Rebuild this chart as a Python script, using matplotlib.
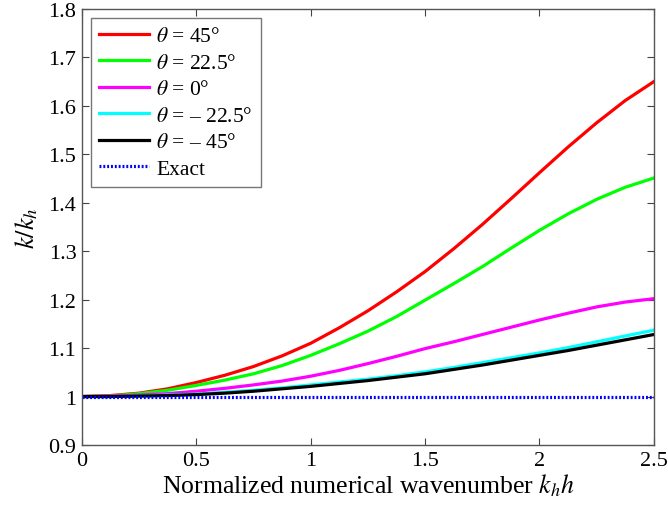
import matplotlib
matplotlib.use("Agg")
import matplotlib.pyplot as plt

plt.rcParams['font.family'] = ['Liberation Serif', 'DejaVu Serif']
plt.rcParams['mathtext.fontset'] = 'stix'

kh = [0.0, 0.125, 0.25, 0.375, 0.5, 0.625, 0.75, 0.875, 1.0, 1.125, 1.25,
      1.375, 1.5, 1.625, 1.75, 1.875, 2.0, 2.125, 2.25, 2.375, 2.5]
theta_45 = [1.000, 1.002, 1.007, 1.016, 1.029, 1.044, 1.062, 1.084, 1.110, 1.142, 1.177,
            1.216, 1.258, 1.305, 1.355, 1.408, 1.462, 1.515, 1.565, 1.611, 1.650]
theta_22 = [1.000, 1.001, 1.006, 1.013, 1.023, 1.034, 1.047, 1.064, 1.085, 1.109, 1.135,
            1.165, 1.199, 1.233, 1.268, 1.306, 1.343, 1.377, 1.407, 1.432, 1.451]
theta_0 = [1.000, 1.001, 1.003, 1.006, 1.011, 1.017, 1.024, 1.032, 1.042, 1.054, 1.068,
           1.083, 1.099, 1.113, 1.128, 1.143, 1.158, 1.172, 1.185, 1.195, 1.202]
theta_m22 = [1.000, 1.000, 1.001, 1.003, 1.005, 1.009, 1.013, 1.018, 1.024, 1.030, 1.036,
             1.043, 1.051, 1.060, 1.070, 1.080, 1.090, 1.101, 1.113, 1.125, 1.137]
theta_m45 = [1.000, 1.000, 1.001, 1.002, 1.004, 1.007, 1.011, 1.016, 1.021, 1.027, 1.033,
             1.040, 1.047, 1.056, 1.065, 1.075, 1.085, 1.095, 1.106, 1.117, 1.128]
exact = [1.0] * len(kh)

labels = [r'$\theta$ = 45°', r'$\theta$ = 22.5°', r'$\theta$ = 0°',
          r'$\theta$ = – 22.5°', r'$\theta$ = – 45°', 'Exact']
colors = ['#ff0000', '#00ff00', '#ff00ff', '#00ffff', '#000000']
series = [theta_45, theta_22, theta_0, theta_m22, theta_m45]

xticks = [0, 0.5, 1, 1.5, 2, 2.5]
xticklabels = ['0', '0.5', '1', '1.5', '2', '2.5']
yticks = [0.9, 1.0, 1.1, 1.2, 1.3, 1.4, 1.5, 1.6, 1.7, 1.8]
yticklabels = ['0.9', '1', '1.1', '1.2', '1.3', '1.4', '1.5', '1.6', '1.7', '1.8']

fig = plt.figure(figsize=(6.68, 5.10), dpi=100)
ax = fig.add_axes([0.1228, 0.1255, 0.856, 0.855])

for ys, c, lab in zip(series, colors, labels[:5]):
    ax.plot(kh, ys, color=c, lw=2.3, label=lab)
ax.plot(kh, exact, color='#0000ff', lw=2.3, ls=(0, (0.6, 0.6)), label=labels[5])

ax.set_xlim(0, 2.5)
ax.set_ylim(0.9, 1.8)
ax.set_xticks(xticks)
ax.set_xticklabels(xticklabels)
ax.set_yticks(yticks)
ax.set_yticklabels(yticklabels)
ax.tick_params(direction='in', top=True, right=True, labelsize=16, length=5,
               width=0.8, color='#444444', pad=4)
for s in ax.spines.values():
    s.set_color('#555555')
    s.set_linewidth(1.0)

ax.set_xlabel(r'Normalized numerical wavenumber $k_h h$', fontsize=18.5, labelpad=1)
ax.set_ylabel(r'$k/k_h$', fontsize=19, labelpad=6)

leg = ax.legend(loc='upper left', fontsize=15.5, frameon=True, fancybox=False,
                edgecolor='#555555', handlelength=2.3, borderpad=0.4,
                labelspacing=0.3, handletextpad=0.35, borderaxespad=0.4)
leg.get_frame().set_linewidth(1.0)

fig.savefig('out.png', dpi=100)
